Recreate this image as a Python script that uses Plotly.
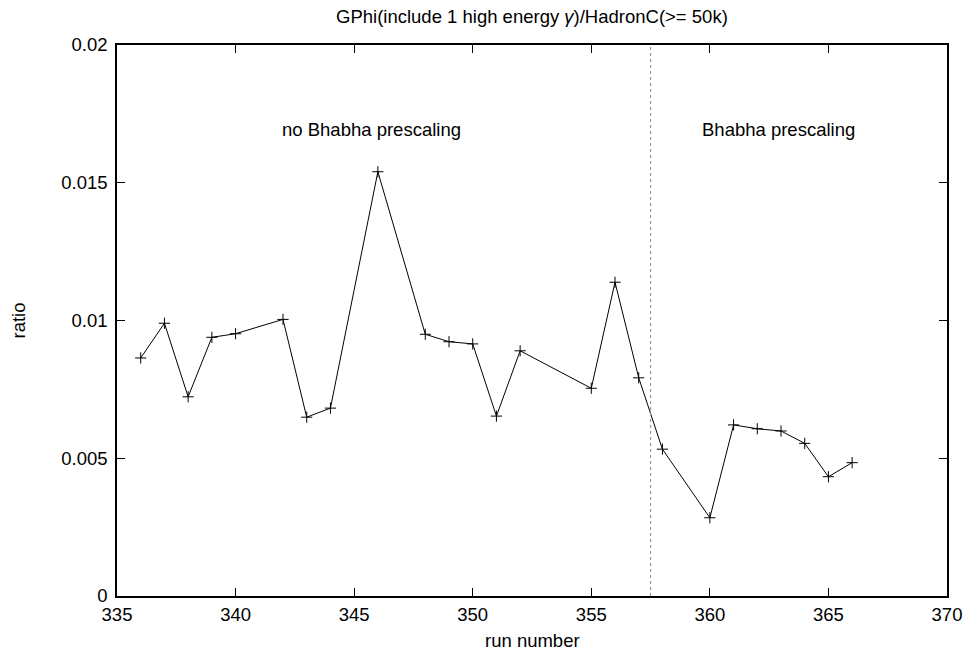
import plotly.graph_objects as go

runs = [336, 337, 338, 339, 340, 342, 343, 344, 346, 348, 349, 350, 351, 352,
        355, 356, 357, 358, 360, 361, 362, 363, 364, 365, 366]
ratio = [0.00864, 0.00990, 0.00723, 0.00939, 0.00952, 0.01004, 0.00649, 0.00682,
         0.01540, 0.00950, 0.00923, 0.00915, 0.00653, 0.00890, 0.00754, 0.01139,
         0.00792, 0.00533, 0.00284, 0.00621, 0.00607, 0.00599, 0.00554, 0.00433,
         0.00484]
x_ticks = [335, 340, 345, 350, 355, 360, 365, 370]
y_ticks = [0, 0.005, 0.01, 0.015, 0.02]
y_tick_text = ["0", "0.005", "0.01", "0.015", "0.02"]
boundary = 357.5
region_labels = ["no Bhabha prescaling", "Bhabha prescaling"]
region_x = [345.75, 362.9]
region_y = 0.01695

FONT = "Liberation Sans, Arial, sans-serif"
FS = 18.5

fig = go.Figure()
fig.add_trace(go.Scatter(
    x=runs, y=ratio, mode="lines+markers",
    line=dict(color="black", width=1),
    marker=dict(symbol="cross-thin", size=8, color="black",
                line=dict(color="black", width=1)),
    showlegend=False,
))

fig.add_shape(type="line", x0=boundary, x1=boundary, y0=0, y1=0.02,
              xref="x", yref="y", line=dict(color="#999999", width=1.2, dash="dot"))

for lbl, xv in zip(region_labels, region_x):
    fig.add_annotation(x=xv, y=region_y, text=lbl, showarrow=False,
                       font=dict(size=FS, color="black", family=FONT))

fig.add_annotation(xref="paper", yref="paper", x=0.5, y=1, yshift=29,
                   xanchor="center", yanchor="middle", showarrow=False,
                   text="GPhi(include 1 high energy <i>γ</i>)/HadronC(>= 50k)",
                   font=dict(size=FS, color="black", family=FONT))
fig.add_annotation(xref="paper", yref="paper", x=0.5, y=0, yshift=-44,
                   xanchor="center", yanchor="middle", showarrow=False,
                   text="run number", font=dict(size=FS, color="black", family=FONT))
fig.add_annotation(xref="paper", yref="paper", x=0, xshift=-99, y=0.5,
                   xanchor="center", yanchor="middle", showarrow=False, textangle=-90,
                   text="ratio", font=dict(size=FS, color="black", family=FONT))

axis_common = dict(showgrid=False, zeroline=False, showline=True, linecolor="black",
                   linewidth=1.5, mirror="ticks", ticks="inside", ticklen=8,
                   tickcolor="black", tickwidth=1, automargin=False,
                   tickfont=dict(size=FS, color="black", family=FONT))

fig.update_layout(
    width=964, height=654,
    margin=dict(l=117, r=17, t=45, b=58),
    paper_bgcolor="white", plot_bgcolor="white",
    xaxis=dict(range=[335, 370], tickvals=x_ticks, ticklabelstandoff=1, **axis_common),
    yaxis=dict(range=[0, 0.02], tickvals=y_ticks, ticktext=y_tick_text,
               ticklabelstandoff=4, **axis_common),
)

fig.write_html("out.html")
